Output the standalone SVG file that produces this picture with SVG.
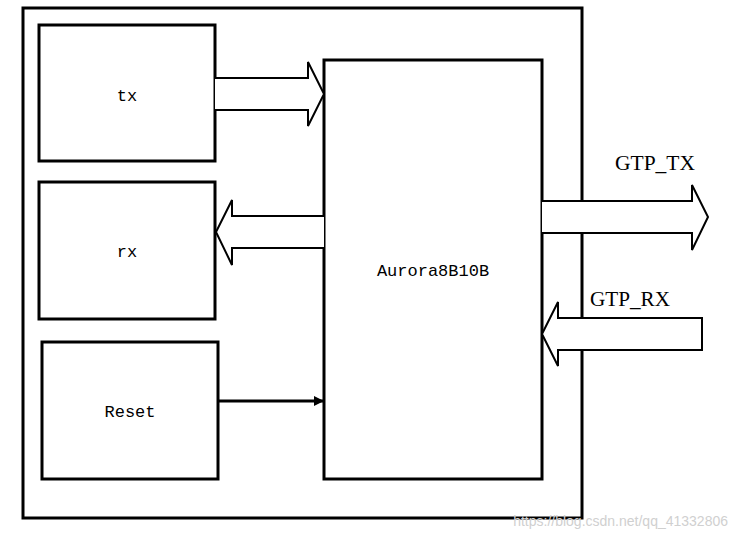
<svg xmlns="http://www.w3.org/2000/svg" width="738" height="538" viewBox="0 0 738 538">
<style>
.box{fill:#fff;stroke:#000;stroke-width:3}
.fat{fill:#fff;stroke:#000;stroke-width:2;stroke-linejoin:miter}
.lbl{font-family:"Liberation Mono","DejaVu Sans Mono",monospace;font-size:17px;text-anchor:middle;fill:#000}
.sig{font-family:"Liberation Serif",serif;font-size:21px;fill:#000;text-anchor:middle}
</style>
<defs><marker id="ah" markerWidth="10" markerHeight="10" refX="9" refY="5" orient="auto" markerUnits="userSpaceOnUse" viewBox="0 0 10 10"><path d="M0,0 L10,5 L0,10z" fill="#000"/></marker></defs>
<rect x="0" y="0" width="738" height="538" fill="#fff"/>
<rect id="frame" class="box" x="23" y="8" width="559" height="510"/>
<g id="tx"><rect class="box" x="39" y="25" width="176" height="136"/><text class="lbl" x="127" y="101">tx</text></g>
<g id="rx"><rect class="box" x="39" y="182" width="176" height="137"/><text class="lbl" x="127" y="257">rx</text></g>
<g id="reset"><rect class="box" x="42" y="342" width="176" height="137"/><text class="lbl" x="130" y="417">Reset</text></g>
<g id="aurora"><rect class="box" x="324" y="60" width="218" height="419"/><text class="lbl" x="433" y="276">Aurora8B10B</text></g>
<g id="connectors">
<path class="fat" d="M215,78 H308 V62 L324,94 L308,126 V110 H215"/>
<path class="fat" d="M324,216 H232 V200 L216,232 L232,265 V248 H324"/>
<path class="fat" d="M542,201 H692 V185 L708,217 L692,250 V233 H542"/>
<path class="fat" d="M702,318 H558 V302 L542,334 L558,366 V350 H702 Z"/>
<line x1="218" y1="401" x2="323" y2="401" stroke="#000" stroke-width="3" marker-end="url(#ah)"/>
<text class="sig" x="655" y="170" textLength="80" lengthAdjust="spacingAndGlyphs">GTP_TX</text>
<text class="sig" x="630" y="306" textLength="80" lengthAdjust="spacingAndGlyphs">GTP_RX</text>
</g>
<text x="728" y="526" font-family="Liberation Sans,sans-serif" font-size="14" fill="#d0d0d0" text-anchor="end">https://blog.csdn.net/qq_41332806</text>
</svg>
